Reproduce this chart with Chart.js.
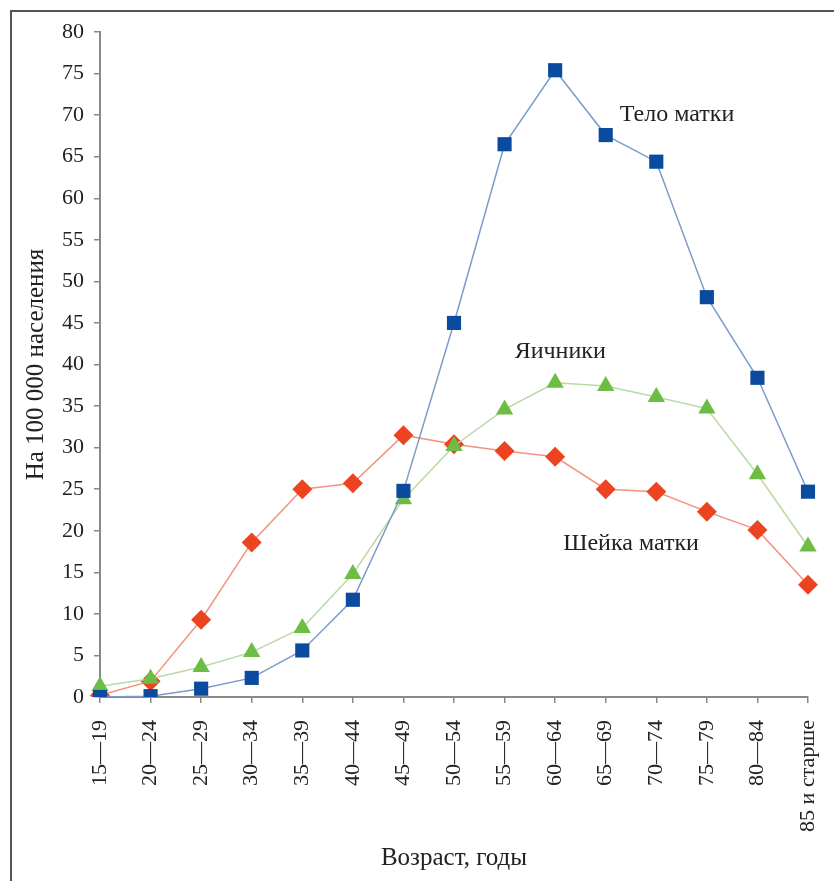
<!DOCTYPE html>
<html>
<head>
<meta charset="utf-8">
<script src="https://cdn.jsdelivr.net/npm/chart.js@4/dist/chart.umd.min.js"></script>
<style>
html,body{margin:0;padding:0;background:#fff;}
#wrap{width:834px;height:881px;position:relative;}
</style>
</head>
<body>
<div id="wrap"><canvas id="c" width="834" height="881"></canvas></div>
<script>
const categories = ["15—19","20—24","25—29","30—34","35—39","40—44","45—49","50—54","55—59","60—64","65—69","70—74","75—79","80—84","85 и старше"];
const uterusBody = [0, 0.1, 1.0, 2.3, 5.6, 11.7, 24.8, 45.0, 66.5, 75.4, 67.6, 64.4, 48.1, 38.4, 24.7];
const ovaries    = [1.3, 2.2, 3.6, 5.4, 8.3, 14.8, 23.8, 30.2, 34.6, 37.8, 37.4, 36.1, 34.7, 26.8, 18.1];
const cervix     = [0.2, 1.9, 9.3, 18.6, 25.0, 25.7, 31.5, 30.4, 29.6, 28.9, 25.0, 24.7, 22.3, 20.1, 13.5];
const seriesNames = ["Тело матки", "Яичники", "Шейка матки"];
const yTicks = [0,5,10,15,20,25,30,35,40,45,50,55,60,65,70,75,80];
const yTitle = "На 100 000 населения";
const xTitle = "Возраст, годы";
// label anchors: [category index, value]
const labelAnchors = [[10.28, 70.0], [8.2, 41.5], [9.16, 18.5]];

const FONT = "'Liberation Serif','DejaVu Serif',serif";

const framePlugin = {
  id: 'frame',
  beforeDraw(chart) {
    const ctx = chart.ctx;
    ctx.save();
    ctx.fillStyle = '#fff';
    ctx.fillRect(0, 0, chart.width, chart.height);
    ctx.strokeStyle = '#555';
    ctx.lineWidth = 2;
    ctx.beginPath();
    ctx.moveTo(11, 881);
    ctx.lineTo(11, 11);
    ctx.lineTo(834, 11);
    ctx.stroke();
    ctx.restore();
  },
  afterDatasetsDraw(chart) {
    const ctx = chart.ctx;
    const xs = chart.scales.x, ys = chart.scales.y;
    ctx.save();
    ctx.font = "24px " + FONT;
    ctx.fillStyle = '#222';
    ctx.textAlign = 'left';
    ctx.textBaseline = 'middle';
    seriesNames.forEach((n, i) => {
      const [ci, v] = labelAnchors[i];
      const x0 = xs.getPixelForValue(Math.floor(ci));
      const x1 = xs.getPixelForValue(Math.floor(ci) + 1);
      const px = x0 + (x1 - x0) * (ci - Math.floor(ci));
      ctx.fillText(n, px, ys.getPixelForValue(v));
    });
    ctx.restore();
  }
};

new Chart(document.getElementById('c'), {
  type: 'line',
  data: {
    labels: categories,
    datasets: [
      {
        label: seriesNames[0], data: uterusBody,
        borderColor: '#7b9bc8', borderWidth: 1.5,
        pointStyle: 'rect', pointRadius: 10, pointHoverRadius: 10,
        pointBackgroundColor: '#0a4a9f', pointBorderColor: '#0a4a9f', pointBorderWidth: 0,
        tension: 0
      },
      {
        label: seriesNames[1], data: ovaries,
        borderColor: '#b9d9a6', borderWidth: 1.5,
        pointStyle: 'triangle', pointRadius: 10, pointHoverRadius: 10,
        pointBackgroundColor: '#6dbd45', pointBorderColor: '#6dbd45', pointBorderWidth: 0,
        tension: 0
      },
      {
        label: seriesNames[2], data: cervix,
        borderColor: '#f3937f', borderWidth: 1.5,
        pointStyle: 'rectRot', pointRadius: 10, pointHoverRadius: 10,
        pointBackgroundColor: '#ec4420', pointBorderColor: '#ec4420', pointBorderWidth: 0,
        tension: 0
      }
    ]
  },
  options: {
    responsive: false,
    animation: false,
    devicePixelRatio: 1,
    layout: { padding: { top: 32, right: 26, left: 0, bottom: 0 } },
    plugins: { legend: { display: false }, tooltip: { enabled: false } },
    scales: {
      x: {
        type: 'category',
        offset: false,
        grid: { drawOnChartArea: false, drawTicks: true, tickLength: 6, color: '#888', lineWidth: 1.5 },
        border: { color: '#888', width: 2 },
        ticks: {
          minRotation: 90, maxRotation: 90, autoSkip: false, padding: 17,
          color: '#222', font: { family: FONT, size: 22 }
        },
        title: { display: true, text: xTitle, color: '#222', font: { family: FONT, size: 25 }, padding: { top: 0, bottom: 8 } },
        afterFit(s) { s.height = 184; s.paddingLeft = 0; s.paddingRight = 0; }
      },
      y: {
        min: 0, max: 80,
        afterBuildTicks(s) { s.ticks = yTicks.map(v => ({ value: v })); },
        grid: { drawOnChartArea: false, drawTicks: true, tickLength: 6, color: '#888', lineWidth: 1.5 },
        border: { color: '#888', width: 2 },
        ticks: { padding: 10, color: '#222', font: { family: FONT, size: 22 } },
        title: { display: true, text: yTitle, color: '#222', font: { family: FONT, size: 25 }, padding: { top: 21, bottom: 0 } },
        afterFit(s) { s.width = 100; s.paddingTop = 0; s.paddingBottom = 0; }
      }
    }
  },
  plugins: [framePlugin]
});
</script>
</body>
</html>
